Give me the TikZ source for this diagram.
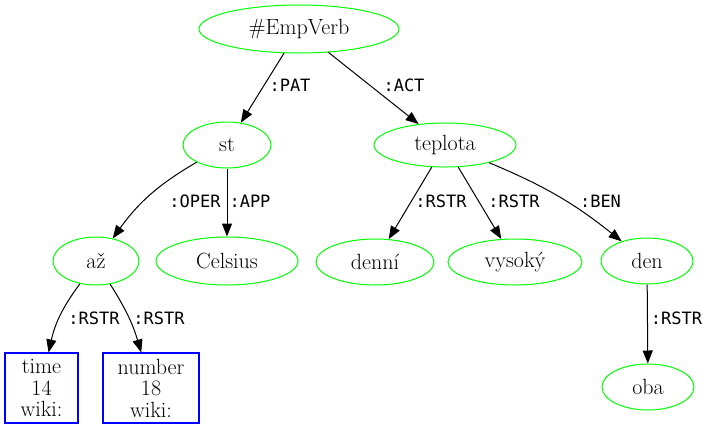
\documentclass[tikz,border=0pt]{standalone}
\usepackage{fontspec}
\newfontfamily\labfont{DejaVu Sans Mono}
\usetikzlibrary{shapes.geometric,arrows.meta}
\definecolor{gvgreen}{RGB}{0,255,0}
\definecolor{gvblue}{RGB}{0,0,255}
\begin{document}
\begin{tikzpicture}[x=1pt,y=-1pt,
  tnode/.style={ellipse, draw=gvgreen, line width=1pt, inner sep=0pt, font=\fontsize{22}{26}\selectfont},
  wbox/.style={rectangle, draw=gvblue, line width=1.05pt, inner sep=0pt, align=center, font=\fontsize{22}{21.5}\selectfont},
  conn/.style={draw, line width=1pt, -{Triangle[length=13pt,width=10pt]}},
  lab/.style={font=\labfont\fontsize{17}{20}\selectfont, inner sep=0pt}
]
\useasboundingbox (0,0) rectangle (709,429);
\node[tnode, minimum width=200pt, minimum height=48pt] (emp) at (299,29) {\#EmpVerb};
\node[tnode, minimum width=88pt, minimum height=46pt] (st) at (227,145) {st};
\node[tnode, minimum width=142pt, minimum height=44pt] (tep) at (445,145) {teplota};
\node[tnode, minimum width=86pt, minimum height=48pt] (az) at (96,261) {až};
\node[tnode, minimum width=142pt, minimum height=48pt] (cel) at (227,261) {Celsius};
\node[tnode, minimum width=118pt, minimum height=46pt] (denni) at (375,262) {denní};
\node[tnode, minimum width=134pt, minimum height=46pt] (vys) at (515,262) {vysoký};
\node[tnode, minimum width=92pt, minimum height=46pt] (den) at (647,261) {den};
\node[tnode, minimum width=92pt, minimum height=46pt] (oba) at (648,387) {oba};
\node[wbox, minimum width=73pt, minimum height=70pt] (time) at (41.5,388) {time\\14\\wiki:};
\node[wbox, minimum width=96pt, minimum height=70pt] (num) at (151,388) {number\\18\\wiki:};

\path[conn] (emp) -- (st);
\path[conn] (emp) -- (tep);
\path[conn] (st) to[bend right=12] (az);
\path[conn] (st) -- (cel);
\path[conn] (tep) -- (denni);
\path[conn] (tep) -- (vys);
\path[conn] (tep) to[bend left=8] (den);
\path[conn] (den) -- (oba);
\path[conn] (az) to[bend right=12] (time);
\path[conn] (az) to[bend left=8] (num);

\node[lab] (l1) at (290,85.5) {:PAT};
\node[lab] (l2) at (404,85.5) {:ACT};
\node[lab] (l3) at (195,201.5) {:OPER};
\node[lab] (l4) at (250,201.5) {:APP};
\node[lab] (l5) at (441,201.5) {:RSTR};
\node[lab] (l6) at (514,201.5) {:RSTR};
\node[lab] (l7) at (600.5,201.5) {:BEN};
\node[lab] (l8) at (676.5,318.5) {:RSTR};
\node[lab] (l9) at (94,318.5) {:RSTR};
\node[lab] (l10) at (159,318.5) {:RSTR};
\end{tikzpicture}
\end{document}
